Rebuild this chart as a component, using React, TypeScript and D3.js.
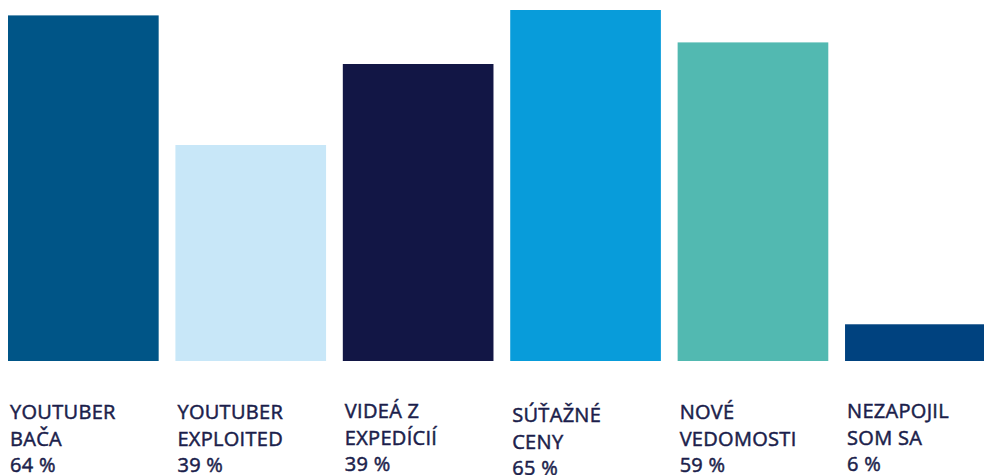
import React from "react";
import * as d3 from "d3";

const categories: string[][] = [
  ["YOUTUBER", "BAČA"],
  ["YOUTUBER", "EXPLOITED"],
  ["VIDEÁ Z", "EXPEDÍCIÍ"],
  ["SÚŤAŽNÉ", "CENY"],
  ["NOVÉ", "VEDOMOSTI"],
  ["NEZAPOJIL", "SOM SA"],
];
const barValues: number[] = [64, 40, 55, 65, 59, 6.8];
const valueLabels: string[] = ["64 %", "39 %", "39 %", "65 %", "59 %", "6 %"];
const colors: string[] = ["#005587", "#c8e7f8", "#121645", "#089cda", "#52b9b1", "#00427f"];

const W = 984;
const H = 467;
const TEXT_COLOR = "#1b1e4b";
const labelShift: number[] = [0, 0, -1, 3, 0, -1];

export default function App() {
  const ids = categories.map((_, i) => String(i));
  const x = d3.scaleBand<string>().domain(ids).range([0, 987.7]).paddingInner(0.1).paddingOuter(0);
  const y = d3.scaleLinear().domain([0, 65]).range([353, 2]);
  return (
    <svg width={W} height={H} style={{ display: "block", overflow: "hidden" }}>
      {barValues.map((v, i) => (
        <rect
          key={i}
          x={x(ids[i])!}
          y={y(v)}
          width={x.bandwidth()}
          height={y(0) - y(v)}
          fill={colors[i]}
        />
      ))}
      {categories.map((lines, i) => (
        <text
          key={"t" + i}
          x={x(ids[i])! + 2}
          y={411 + labelShift[i]}
          fill={TEXT_COLOR}
          fontFamily="'Open Sans', sans-serif"
          fontSize={20}
          fontWeight={500}
          letterSpacing={0.3}
          stroke={TEXT_COLOR}
          strokeWidth={0.5}
        >
          {lines.map((l, j) => (
            <tspan key={j} x={x(ids[i])! + 2} dy={j === 0 ? 0 : 26.5}>
              {l}
            </tspan>
          ))}
          <tspan x={x(ids[i])! + 2} dy={26.5}>
            {valueLabels[i]}
          </tspan>
        </text>
      ))}
    </svg>
  );
}
